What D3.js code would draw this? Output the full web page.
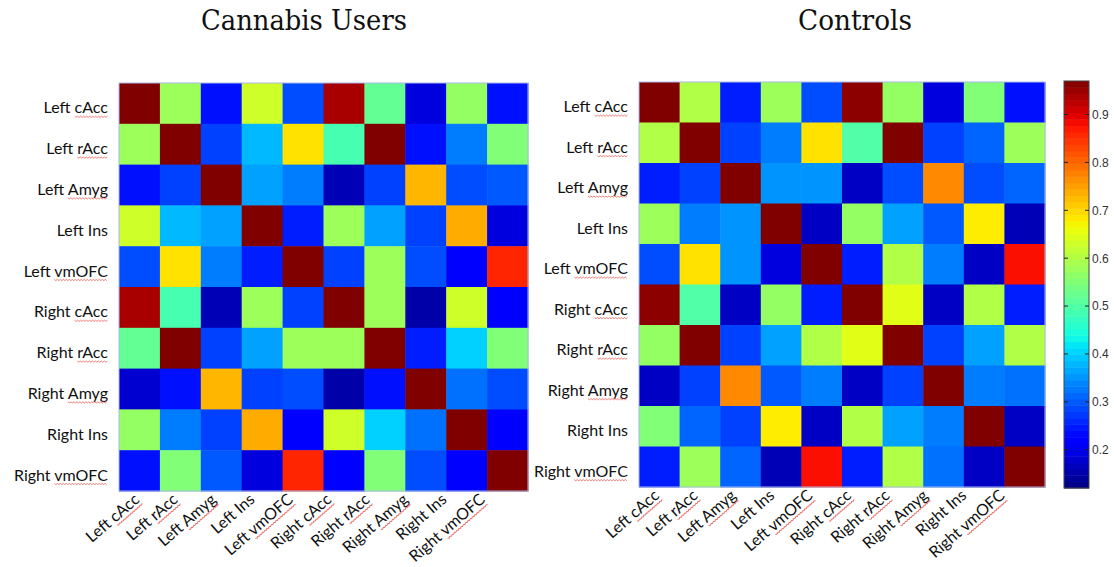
<!DOCTYPE html><html><head><meta charset="utf-8">
<title>Cannabis Users / Controls</title>
<script src="https://cdn.jsdelivr.net/npm/d3@7"></script>
<style>
body { margin: 0; background: #fff; }
svg { display: block; }
</style>
</head>
<body>
<div id="chart"></div>
<script>
// regions (rows and columns are the same)
const regions = ["Left cAcc", "Left rAcc", "Left Amyg", "Left Ins", "Left vmOFC",
	"Right cAcc", "Right rAcc", "Right Amyg", "Right Ins", "Right vmOFC"];

// correlation matrices
const cannabis = [
	[1.00, 0.58, 0.24, 0.63, 0.29, 0.94, 0.52, 0.19, 0.57, 0.24],
	[0.58, 1.00, 0.28, 0.38, 0.69, 0.49, 0.97, 0.24, 0.33, 0.55],
	[0.24, 0.28, 1.00, 0.36, 0.33, 0.16, 0.28, 0.73, 0.29, 0.30],
	[0.63, 0.38, 0.36, 1.00, 0.25, 0.58, 0.36, 0.28, 0.74, 0.19],
	[0.29, 0.69, 0.33, 0.25, 1.00, 0.28, 0.58, 0.29, 0.22, 0.86],
	[0.94, 0.49, 0.16, 0.58, 0.28, 1.00, 0.58, 0.15, 0.63, 0.22],
	[0.52, 0.97, 0.28, 0.36, 0.58, 0.58, 1.00, 0.25, 0.40, 0.55],
	[0.18, 0.24, 0.73, 0.28, 0.29, 0.15, 0.24, 1.00, 0.32, 0.29],
	[0.57, 0.33, 0.28, 0.74, 0.22, 0.63, 0.40, 0.32, 1.00, 0.22],
	[0.24, 0.55, 0.30, 0.19, 0.86, 0.22, 0.55, 0.29, 0.22, 1.00]
];
const controls = [
	[1.00, 0.60, 0.25, 0.58, 0.29, 0.96, 0.57, 0.19, 0.55, 0.24],
	[0.60, 1.00, 0.28, 0.33, 0.69, 0.50, 0.97, 0.28, 0.31, 0.58],
	[0.25, 0.28, 1.00, 0.35, 0.35, 0.17, 0.29, 0.77, 0.29, 0.31],
	[0.58, 0.33, 0.35, 1.00, 0.17, 0.57, 0.36, 0.30, 0.68, 0.16],
	[0.29, 0.69, 0.35, 0.19, 1.00, 0.25, 0.60, 0.33, 0.17, 0.88],
	[0.96, 0.50, 0.17, 0.57, 0.25, 1.00, 0.65, 0.17, 0.60, 0.25],
	[0.57, 0.97, 0.28, 0.36, 0.60, 0.65, 1.00, 0.28, 0.36, 0.60],
	[0.17, 0.28, 0.77, 0.30, 0.33, 0.17, 0.28, 1.00, 0.33, 0.32],
	[0.55, 0.31, 0.28, 0.68, 0.17, 0.60, 0.36, 0.33, 1.00, 0.17],
	[0.25, 0.58, 0.31, 0.16, 0.88, 0.25, 0.60, 0.32, 0.17, 1.00]
];
const colorDomain = [0.12, 0.97];
const colorTicks = [0.2, 0.3, 0.4, 0.5, 0.6, 0.7, 0.8, 0.9];
const squiggled = ["cAcc", "rAcc", "Amyg", "vmOFC"];

const W = 1114, H = 567;
const svg = d3.select("#chart").append("svg").attr("width", W).attr("height", H);
svg.append("rect").attr("width", W).attr("height", H).attr("fill", "#fff");

// jet colormap (matplotlib segments)
const jr = d3.scaleLinear().domain([0, 0.35, 0.66, 0.89, 1]).range([0, 0, 1, 1, 0.5]).clamp(true);
const jg = d3.scaleLinear().domain([0, 0.125, 0.375, 0.64, 0.91, 1]).range([0, 0, 1, 1, 0, 0]).clamp(true);
const jb = d3.scaleLinear().domain([0, 0.11, 0.34, 0.65, 1]).range([0.5, 1, 1, 0, 0]).clamp(true);
const jet = t => d3.rgb(jr(t) * 255, jg(t) * 255, jb(t) * 255).toString();
const color = d3.scaleSequential(jet).domain(colorDomain).clamp(true);

const labelFont = "Lato, 'Open Sans', sans-serif";

function squiggle(g, x0, x1, y) {
	const pts = d3.range(x0, x1 + 0.1, 1.5).map((x, i) => [x, y + (i % 2 ? 1 : -0.2)]);
	g.append("path").attr("d", d3.line()(pts))
		.attr("fill", "none").attr("stroke", "#e8554e").attr("stroke-width", 0.9).attr("opacity", 0.85);
}

function addLabel(g, name) {
	const t = g.append("text").attr("text-anchor", "end")
		.attr("font-family", labelFont).attr("font-size", 16).attr("fill", "#111").text(name);
	const word = name.split(" ")[1];
	if (squiggled.includes(word)) {
		const node = t.node();
		const L = node.getComputedTextLength();
		const p = node.getSubStringLength(0, name.length - word.length);
		squiggle(g, -L + p, 0, 3);
	}
}

function heatmap(data, box, title, titleBox) {
	const x = d3.scaleBand().domain(regions).range([box.x0, box.x1]);
	const y = d3.scaleBand().domain(regions).range([box.y0, box.y1]);
	const g = svg.append("g");
	regions.forEach((r, i) => {
		g.selectAll(null).data(data[i]).join("rect")
			.attr("x", (d, j) => x(regions[j]))
			.attr("y", y(r))
			.attr("width", x.bandwidth() + 0.5)
			.attr("height", y.bandwidth() + 0.5)
			.attr("fill", d => color(d));
	});
	g.append("rect").attr("x", box.x0).attr("y", box.y0)
		.attr("width", box.x1 - box.x0).attr("height", box.y1 - box.y0)
		.attr("fill", "none").attr("stroke", "#aab8e6").attr("stroke-width", 1);

	// row labels
	regions.forEach(r => {
		const lg = svg.append("g").attr("transform", `translate(${box.x0 - 11},${y(r) + y.bandwidth() / 2 + 10})`);
		addLabel(lg, r);
	});
	// column labels (rotated), slightly tighter than the cells
	const xl = d3.scalePoint().domain(regions)
		.range([box.x0 + x.bandwidth() / 2 + 1, box.x0 + x.bandwidth() / 2 + 1 + 9 * 38.4]);
	regions.forEach(r => {
		const lg = svg.append("g").attr("transform", `translate(${xl(r)},${box.y1 + 10}) rotate(-41)`);
		addLabel(lg, r);
	});

	svg.append("text").attr("x", titleBox.cx).attr("y", 30).attr("text-anchor", "middle")
		.attr("font-family", "'DejaVu Serif', serif").attr("font-size", 27).attr("fill", "#111")
		.attr("textLength", titleBox.w).attr("lengthAdjust", "spacingAndGlyphs").text(title);
}

heatmap(cannabis, { x0: 119, x1: 528, y0: 83, y1: 491 }, "Cannabis Users", { cx: 304, w: 206 });
heatmap(controls, { x0: 639, x1: 1045, y0: 82, y1: 487 }, "Controls", { cx: 855, w: 114 });

// colorbar
const cb = { x0: 1064, x1: 1089, y0: 81, y1: 488 };
const cy = d3.scaleLinear().domain(colorDomain).range([cb.y1, cb.y0]);
const steps = 64;
const stepVals = d3.range(steps).map(i => colorDomain[0] + (colorDomain[1] - colorDomain[0]) * (i + 0.5) / steps);
const sh = (cb.y1 - cb.y0) / steps;
svg.append("g").selectAll("rect").data(stepVals).join("rect")
	.attr("x", cb.x0).attr("width", cb.x1 - cb.x0)
	.attr("y", d => cy(d) - sh / 2).attr("height", sh + 0.5)
	.attr("fill", d => color(d));
svg.append("rect").attr("x", cb.x0).attr("y", cb.y0)
	.attr("width", cb.x1 - cb.x0).attr("height", cb.y1 - cb.y0)
	.attr("fill", "none").attr("stroke", "#444").attr("stroke-width", 1);
const axR = svg.append("g").attr("transform", `translate(${cb.x1},0)`)
	.call(d3.axisRight(cy).tickValues(colorTicks).tickSize(0).tickPadding(3).tickFormat(d3.format(".1f")));
axR.select(".domain").remove();
axR.selectAll("text").attr("font-family", "'Liberation Sans', Arial, sans-serif").attr("font-size", 12).attr("fill", "#333");
const tickG = svg.append("g");
colorTicks.forEach(v => {
	tickG.append("line").attr("x1", cb.x0).attr("x2", cb.x0 + 4).attr("y1", cy(v)).attr("y2", cy(v)).attr("stroke", "#222");
	tickG.append("line").attr("x1", cb.x1 - 4).attr("x2", cb.x1).attr("y1", cy(v)).attr("y2", cy(v)).attr("stroke", "#222");
});
</script>
</body>
</html>
